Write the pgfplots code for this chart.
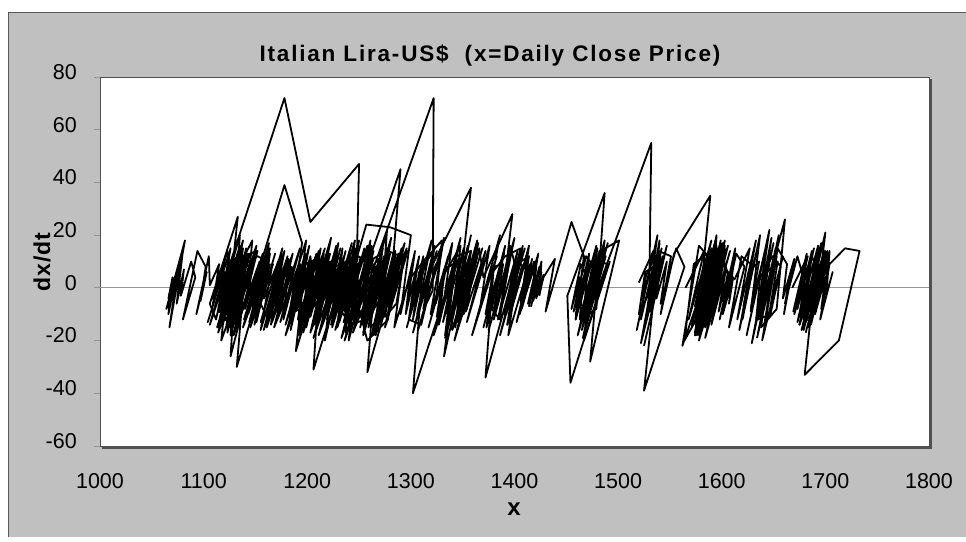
\documentclass[border=0pt]{standalone}
\usepackage{fontspec}
\setmainfont{Liberation Sans}
\usepackage{pgfplots}
\pgfplotsset{compat=1.18}
\definecolor{bg}{RGB}{192,192,192}
\definecolor{frame}{RGB}{80,80,80}
\definecolor{zline}{RGB}{150,150,150}
\pgfplotsset{trace/.style={black, line width=1.8pt, line join=round, mark=none, forget plot}}
\begin{document}
\begin{tikzpicture}
\useasboundingbox (-100pt,-95pt) rectangle (866pt,446pt);
\fill[white] (-100pt,-95pt) rectangle (866pt,446pt);
\fill[bg] (-92pt,-91pt) rectangle (866pt,434pt);
\draw[gray!70!black, line width=0.7pt] (-92pt,-91pt) -- (-92pt,434pt) -- (866pt,434pt);
\fill[frame] (2pt,-2.5pt) rectangle (831.5pt,367pt);
\begin{axis}[
  at={(0pt,0pt)}, anchor=south west,
  scale only axis, width=829pt, height=369pt,
  xmin=1000, xmax=1800, ymin=-60, ymax=80,
  xtick={1000,1100,...,1800},
  xticklabels={1000,1100,1200,1300,1400,1500,1600,1700,1800},
  ytick={-60,-40,...,80},
  yticklabels={-60,-40,-20,0,20,40,60,80},
  axis background/.style={fill=white},
  axis line style={frame, line width=0.9pt},
  tick align=outside,
  major tick length=6pt,
  x tick style={draw=none},
  y tick style={zline, line width=0.8pt},
  xtick pos=bottom, ytick pos=left,
  ticklabel style={font=\fontsize{21.5}{24}\selectfont, inner sep=0pt},
  xticklabel style={anchor=north, yshift=-21pt},
  yticklabel style={anchor=east, xshift=-17pt, yshift=5pt},
  clip=true,
]
\addplot[zline, line width=0.8pt, forget plot] coordinates {(1000,0) (1800,0)};
\addplot[trace] coordinates {
(1072,0) (1064,-8) (1082,18) (1067,-15) (1076,9) (1066,-10) (1070,4) (1066,-4) (1080,14) (1074,-6) (1081,7) (1078,-3) (1088,10) (1092,4) (1080,-12) (1094,14) (1102,8) (1097,-5) (1103,6) (1093,-10) (1105,12)
(1106,1) (1115,9) (1109,-6) (1123,14) (1127,4) (1116,-11) (1123,7) (1138,15) (1130,-8) (1116,-14) (1121,5) (1131,10) (1128,-3) (1140,12) (1123,-17) (1129,6) (1120,-9) (1123,3) (1134,11) (1128,-6) (1136,8) (1124,-12) (1119,-5) (1135,16) (1137,2) (1117,-20) (1124,7) (1133,9) (1129,-4) (1142,13) (1135,-7) (1125,-10) (1129,4) (1147,18) (1141,-6) (1126,-15) (1129,3) (1121,-8) (1131,10) (1136,5) (1123,-13) (1115,-8) (1135,20) (1131,-4) (1140,9) (1152,12) (1162,10) (1132,-30) (1140,8) (1126,-14) (1138,12) (1152,14) (1126,-26) (1131,5) (1140,9) (1133,-7) (1137,4) (1126,-11) (1141,15) (1138,-3) (1144,6) (1126,-18) (1129,3) (1119,-10) (1127,8) (1122,-5) (1133,11) (1118,-15) (1122,4) (1114,-8) (1124,10) (1112,-12) (1106,-6) (1133,27) (1123,-10) (1114,-9) (1120,6) (1106,-14) (1178,72) (1203,25) (1250,47)
(1247,-3) (1255,8) (1243,-12) (1248,5) (1241,-7) (1254,13) (1260,6) (1246,-14) (1249,3) (1240,-9) (1251,11) (1246,-5) (1262,16) (1254,-8) (1237,-17) (1241,4) (1251,10) (1245,-6) (1290,45) (1278,-12) (1258,-20) (1250,-8) (1322,72) (1321,-1) (1315,-6) (1324,9) (1310,-14) (1298,-12) (1305,7) (1295,-10) (1299,4) (1284,-15) (1292,8) (1286,-6) (1275,-11) (1280,5) (1271,-9) (1285,14) (1282,-3) (1266,-16) (1272,6) (1262,-10) (1274,12) (1269,-5) (1255,-14) (1258,3) (1250,-8) (1260,10) (1240,-20) (1247,7) (1241,-6) (1250,9) (1238,-12) (1234,-4) (1249,15) (1239,-10) (1244,5) (1231,-13) (1239,8) (1232,-7) (1243,11) (1234,-9) (1229,-5) (1241,12) (1244,3) (1229,-15) (1235,6) (1227,-8) (1237,10) (1225,-12) (1229,4) (1223,-6) (1237,14) (1217,-20) (1226,9) (1221,-5) (1228,7) (1217,-11) (1220,3) (1212,-8) (1228,16) (1218,-10) (1223,5) (1209,-14) (1211,2) (1221,10) (1214,-7) (1220,6) (1208,-12) (1216,8) (1212,-4) (1203,-9) (1216,13) (1210,-6) (1214,4) (1203,-11) (1210,7) (1207,-3) (1197,-10) (1202,5) (1210,8) (1197,-13) (1191,-6) (1203,12) (1206,3) (1197,-9) (1211,14) (1206,-5) (1213,7)
(1189,-24) (1198,9) (1209,11) (1217,8) (1229,12) (1237,8) (1206,-31) (1212,6) (1204,-8) (1214,10) (1199,-15) (1203,4) (1197,-6) (1206,9) (1203,-3) (1191,-12) (1198,7) (1193,-5) (1203,10) (1201,-2) (1193,-8) (1183,-10) (1189,6) (1177,-12) (1181,4) (1172,-9) (1179,7) (1165,-14) (1170,5) (1162,-8) (1172,10) (1161,-11) (1155,-6) (1164,9) (1151,-13) (1154,3) (1147,-7) (1151,4) (1139,-12) (1178,39) (1195,17) (1185,-10) (1193,8) (1188,-5) (1200,12) (1184,-16) (1193,9) (1199,6) (1210,11) (1206,-4) (1220,14) (1213,-7) (1223,10) (1231,8) (1219,-12) (1234,15) (1228,-6) (1246,18) (1237,-9) (1249,12) (1259,10) (1272,13) (1264,-8) (1278,14) (1290,12) (1258,-32) (1266,8) (1252,-14) (1258,6) (1269,11) (1262,-7) (1277,15) (1267,-10) (1272,5) (1254,-18) (1263,9) (1267,4) (1255,-12) (1277,22) (1272,-5) (1280,8) (1267,-13) (1277,10) (1273,-4) (1285,12) (1276,-9) (1261,-15) (1268,7) (1256,-12) (1242,-14) (1233,-9) (1257,24) (1280,23) (1300,20) (1290,-10) (1304,14)
(1296,-8) (1308,12) (1300,-8) (1312,12) (1304,-8) (1314,10) (1302,-12) (1308,6) (1322,14) (1312,-10) (1320,8) (1358,38) (1343,-15) (1334,-9) (1342,8) (1302,-40) (1312,10) (1330,18) (1324,-6) (1336,12) (1325,-11) (1332,7) (1341,9) (1327,-14) (1332,5) (1348,16) (1341,-7) (1351,10) (1333,-18) (1341,8) (1353,12) (1349,-4) (1358,9) (1345,-13) (1351,6) (1362,11) (1354,-8) (1338,-16) (1358,20) (1332,-26) (1344,12) (1358,14) (1352,-6) (1361,9) (1351,-10) (1366,15) (1370,4) (1398,28) (1386,-12) (1378,-8) (1388,10) (1373,-15) (1379,6) (1391,12) (1406,15) (1372,-34) (1380,8) (1389,9) (1383,-6) (1396,13) (1387,-9) (1392,5) (1380,-12) (1396,16) (1402,6) (1392,-10) (1403,11) (1399,-4) (1407,8) (1393,-14) (1402,9) (1414,12) (1406,-8) (1412,6) (1394,-18) (1404,10) (1411,7) (1406,-5) (1415,9) (1419,4) (1413,-6) (1421,8) (1418,-3) (1423,5) (1416,-7) (1426,10) (1424,-2) (1428,4) (1439,11) (1430,-9) (1455,25)
(1467,12) (1461,-6) (1471,10) (1459,-12) (1463,4) (1455,-8) (1464,9) (1469,5) (1459,-10) (1472,13) (1468,-4) (1475,7) (1463,-12) (1466,3) (1457,-9) (1469,12) (1477,8) (1471,-6) (1481,10) (1490,9) (1454,-36) (1451,-3) (1487,36) (1479,-8) (1468,-11) (1474,6) (1469,-5) (1483,14) (1501,18) (1473,-28) (1481,8) (1477,-4) (1532,55)
(1530,-2) (1520,-10) (1526,6) (1534,8) (1522,-12) (1527,5) (1536,9) (1529,-7) (1541,12) (1537,-4) (1547,10) (1541,-6) (1556,15) (1564,8) (1525,-39) (1539,14) (1551,12) (1541,-10) (1554,13) (1589,35) (1577,-12)
(1583,6) (1574,-9) (1585,11) (1581,-4) (1589,8) (1576,-13) (1581,5) (1574,-7) (1588,14) (1578,-10) (1581,3) (1590,9) (1575,-15) (1581,6) (1576,-5) (1588,12) (1580,-8) (1584,4) (1573,-11) (1583,10) (1590,7) (1584,-6) (1564,-20) (1573,9) (1586,13) (1583,-3) (1591,8) (1579,-12) (1584,5) (1575,-9) (1590,15) (1586,-4) (1592,6) (1578,-14) (1588,10) (1581,-7) (1584,3) (1562,-22) (1578,16) (1589,11) (1584,-5) (1593,9) (1583,-10) (1587,4) (1574,-13) (1582,8) (1594,12) (1588,-6) (1595,7) (1579,-16) (1585,6) (1582,-3) (1592,10) (1583,-9) (1588,5) (1602,14) (1594,-8) (1583,-11) (1592,9) (1598,6) (1586,-12) (1589,3) (1600,11) (1593,-7) (1575,-18) (1595,20) (1591,-4) (1599,8) (1589,-10) (1601,12) (1606,5) (1597,-9) (1604,7) (1590,-14) (1600,10) (1606,6) (1601,-5) (1610,9) (1598,-12) (1613,15) (1607,-6) (1611,4) (1601,-10) (1614,13) (1622,8) (1607,-15) (1619,12) (1628,9) (1621,-7) (1632,11) (1620,-12) (1626,6)
(1636,10) (1628,-8) (1642,14) (1637,-5) (1646,9) (1633,-13) (1637,4) (1649,12) (1657,8) (1647,-10) (1635,-12) (1661,26) (1653,-8) (1638,-15) (1644,6) (1654,10) (1647,-7) (1659,12) (1639,-20) (1654,15) (1663,9) (1659,-4) (1670,11) (1660,-10) (1667,7)
(1661,-6) (1673,12) (1678,5) (1669,-9) (1682,13) (1678,-4) (1686,8) (1675,-11) (1681,6) (1673,-8) (1687,14) (1682,-5) (1691,9) (1679,-12) (1683,4) (1693,10) (1686,-7) (1689,3) (1675,-14) (1687,12) (1693,6) (1683,-10) (1691,8) (1687,-4) (1698,11) (1685,-13) (1690,5) (1699,9) (1693,-6) (1679,-14) (1700,21) (1691,-9) (1698,7) (1686,-12) (1696,10) (1691,-5) (1704,13) (1696,-8) (1700,4) (1690,-10) (1704,14) (1701,-3) (1707,6) (1695,-12) (1704,9) (1719,15) (1733,14) (1713,-20) (1680,-33) (1692,12) (1682,-10) (1689,7) (1683,-6) (1693,10) (1685,-8) (1690,5) (1686,-4) (1695,9) (1698,3)
};
\addplot[trace] coordinates {
(1108,-4) (1122,10) (1104,-13) (1126,15) (1117,-6) (1134,12) (1113,-15) (1138,18) (1125,-9) (1144,13) (1128,-11) (1138,7) (1114,-17) (1134,14) (1127,-5) (1145,13) (1123,-15) (1138,11) (1147,6) (1128,-13) (1151,16) (1140,-8) (1154,10) (1129,-18) (1149,14) (1141,-6) (1157,11) (1143,-10) (1164,15) (1147,-12) (1159,8) (1139,-14) (1163,17) (1154,-6) (1167,9) (1145,-15) (1164,13) (1158,-4) (1173,11) (1155,-13) (1176,15) (1164,-8) (1181,12) (1158,-16) (1178,14) (1168,-7) (1186,13) (1171,-11) (1193,15) (1174,-13) (1199,18) (1191,-6) (1205,10) (1179,-18) (1202,16) (1190,-8) (1209,13) (1192,-12) (1213,15) (1204,-6) (1220,11) (1196,-17) (1223,19) (1209,-10) (1227,13) (1207,-14) (1229,15) (1218,-8) (1233,11) (1206,-19) (1230,17) (1222,-6) (1241,13) (1225,-11) (1246,15) (1224,-15) (1250,18) (1237,-9) (1254,12) (1235,-13) (1258,16) (1248,-7) (1264,11) (1236,-20) (1261,18) (1254,-5) (1272,13) (1251,-15) (1273,15) (1258,-11) (1278,14) (1254,-17) (1281,19) (1269,-8) (1288,13) (1270,-13) (1291,15) (1266,-18) (1283,12) (1274,-6) (1296,15) (1276,-14) (1290,10) (1264,-18) (1283,13) (1270,-9) (1294,17) (1277,-12) (1297,14) (1275,-15)
(1287,8) (1262,-18) (1280,13) (1259,-15) (1268,6) (1244,-17) (1264,14) (1245,-13) (1260,11) (1233,-19) (1255,15) (1237,-13) (1250,9) (1227,-16) (1246,13) (1230,-11) (1241,8) (1219,-15) (1243,17) (1223,-14) (1237,10) (1211,-18) (1232,15) (1215,-12) (1227,8) (1204,-16) (1222,13) (1207,-11) (1227,14) (1203,-17) (1219,11) (1200,-13) (1213,9) (1192,-15) (1209,12) (1195,-10) (1217,15) (1192,-18) (1202,7) (1184,-13) (1199,11) (1179,-14) (1198,13) (1182,-11) (1190,6) (1168,-15) (1186,13) (1173,-9) (1185,8) (1166,-13) (1182,11) (1161,-15) (1175,10) (1158,-12) (1178,14) (1155,-16) (1166,8) (1151,-11) (1169,13) (1149,-14) (1162,9) (1144,-13) (1160,11) (1138,-15) (1157,13) (1143,-10) (1153,7) (1129,-17) (1150,15) (1131,-13) (1146,11) (1123,-16) (1140,12) (1128,-8) (1142,10) (1122,-14) (1140,13) (1124,-11) (1135,8) (1114,-15) (1133,13) (1118,-11) (1131,9) (1122,-6)
};
\addplot[trace] coordinates {
(1300,4) (1316,12) (1296,-15) (1320,18) (1306,-10) (1325,14) (1302,-17) (1323,16) (1312,-8) (1329,13) (1307,-16) (1332,19) (1319,-10) (1337,13) (1317,-15) (1340,17) (1331,-7) (1346,11) (1322,-18) (1348,19) (1331,-13) (1351,15) (1339,-9) (1358,14) (1333,-19) (1355,16) (1339,-12) (1357,13) (1347,-8) (1361,10) (1340,-16) (1364,18) (1349,-11) (1369,15) (1342,-20) (1365,17) (1353,-9) (1372,14) (1354,-13) (1376,16) (1367,-7) (1383,12) (1359,-18) (1386,20) (1372,-10) (1390,13) (1370,-15) (1391,16) (1380,-8) (1397,13) (1375,-16) (1400,19) (1384,-12) (1403,14) (1390,-10) (1410,15) (1386,-18) (1408,16) (1396,-9) (1412,12) (1393,-14) (1414,16) (1406,-6) (1419,10) (1402,-13) (1417,11) (1407,-8) (1419,9) (1405,-10) (1423,13) (1414,-7) (1424,8) (1418,-5) (1426,6) (1421,-4) (1428,5) (1424,-3)
};
\addplot[trace] coordinates {
(1462,0) (1474,10) (1459,-12) (1479,16) (1467,-10) (1483,13) (1461,-18) (1480,15) (1471,-7) (1485,11) (1465,-16) (1482,14) (1469,-10) (1490,17) (1466,-19) (1484,14) (1473,-9) (1488,12) (1469,-15) (1481,10) (1465,-13) (1487,18) (1479,-6) (1492,10) (1467,-20) (1477,8) (1463,-11)
};
\addplot[trace] coordinates {
(1520,2) (1534,14) (1518,-16) (1538,20) (1527,-11) (1542,15) (1523,-19) (1540,17) (1531,-9) (1543,12) (1522,-21) (1540,18) (1526,-14) (1539,13) (1531,-8) (1547,16) (1525,-22)
};
\addplot[trace] coordinates {
(1565,0) (1583,14) (1568,-12) (1590,18) (1571,-15) (1587,13) (1575,-10) (1595,16) (1574,-17) (1588,11) (1571,-14) (1594,18) (1584,-8) (1599,12) (1577,-18) (1596,15) (1583,-10) (1600,14) (1580,-16) (1601,17) (1585,-13) (1597,10) (1574,-18) (1594,16) (1585,-7) (1603,14) (1584,-15) (1598,11) (1577,-17) (1599,18) (1585,-11) (1601,13) (1583,-14) (1603,16) (1591,-10) (1608,14) (1584,-19) (1603,15) (1588,-12) (1601,10) (1581,-16) (1603,18) (1586,-14) (1601,12) (1579,-18) (1597,14) (1586,-9) (1606,16) (1587,-15) (1603,13) (1578,-20) (1599,17) (1585,-11) (1597,10) (1579,-14) (1596,14) (1574,-18) (1593,15) (1580,-10) (1595,12) (1575,-16) (1593,14) (1577,-13) (1591,11) (1581,-8)
};
\addplot[trace] coordinates {
(1612,3) (1627,15) (1615,-12) (1633,18) (1617,-16) (1637,20) (1628,-9) (1642,14) (1624,-18) (1646,22) (1633,-13) (1650,17) (1629,-21) (1648,19) (1637,-11) (1652,15) (1635,-17) (1655,20) (1641,-14) (1653,12) (1634,-19)
};
\addplot[trace] coordinates {
(1668,0) (1683,12) (1670,-10) (1689,15) (1673,-13) (1693,16) (1682,-9) (1699,14) (1679,-16) (1693,11) (1675,-14) (1696,17) (1687,-7) (1703,13) (1684,-15) (1697,10) (1682,-12) (1700,14) (1688,-10) (1703,12) (1686,-14) (1697,9) (1677,-16) (1696,15) (1682,-11) (1698,13) (1688,-8) (1701,10) (1685,-13) (1702,14) (1681,-17)
};
\end{axis}
\node[font=\bfseries\fontsize{22.5}{26}\selectfont\addfontfeature{LetterSpace=8}, anchor=base] at (390pt,384pt) {Italian Lira-US\$\ \ (x=Daily Close Price)};
\node[font=\bfseries\fontsize{23}{26}\selectfont\addfontfeature{LetterSpace=4}, rotate=90] at (-58pt,184pt) {dx/dt};
\node[font=\bfseries\fontsize{24}{26}\selectfont, anchor=base] at (414pt,-69pt) {x};
\end{tikzpicture}
\end{document}
